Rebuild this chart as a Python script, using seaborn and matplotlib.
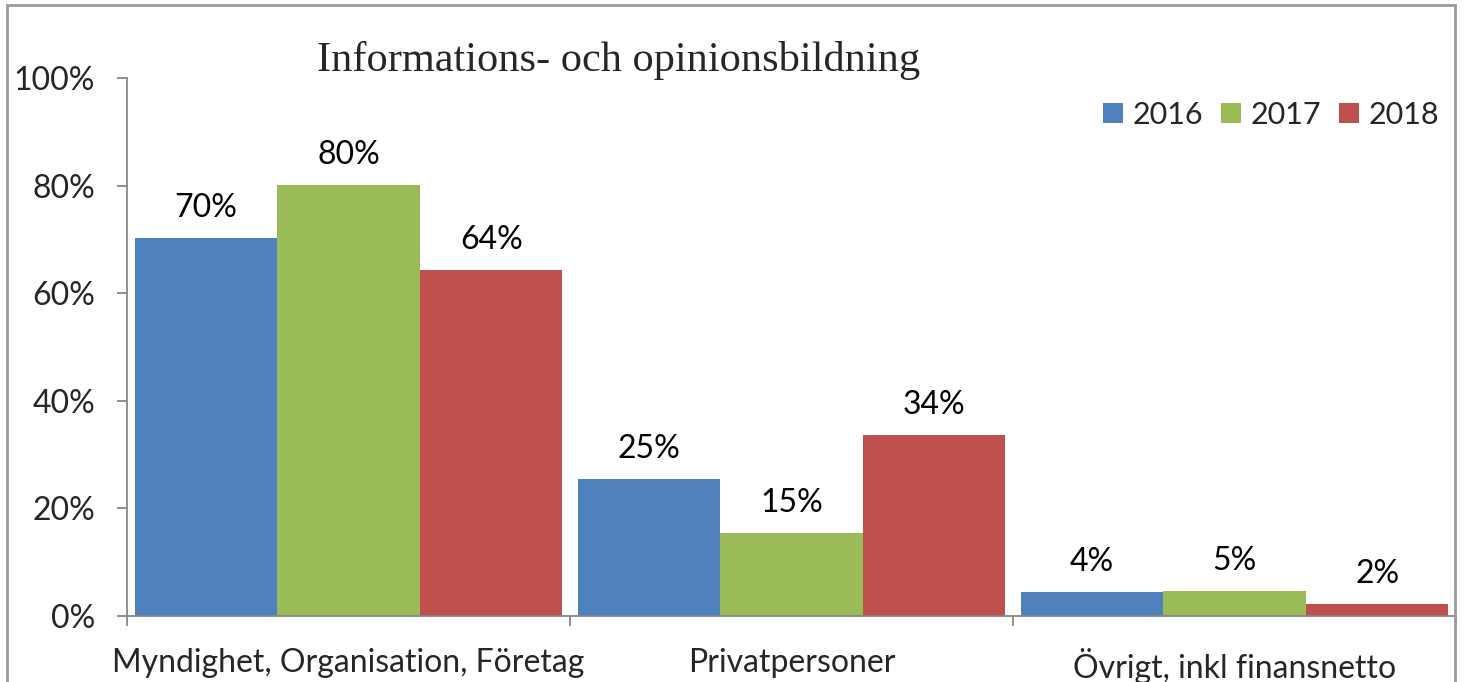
import matplotlib
matplotlib.use("Agg")
import matplotlib.pyplot as plt
import seaborn as sns
import pandas as pd
from matplotlib.patches import Patch, Rectangle
from matplotlib.ticker import FixedLocator, FuncFormatter

categories = ["Myndighet, Organisation, Företag", "Privatpersoner", "Övrigt, inkl finansnetto"]
years = ["2016", "2017", "2018"]
values_2016 = [70.3, 25.4, 4.4]
values_2017 = [80.1, 15.4, 4.6]
values_2018 = [64.3, 33.6, 2.2]
labels_2016 = ["70%", "25%", "4%"]
labels_2017 = ["80%", "15%", "5%"]
labels_2018 = ["64%", "34%", "2%"]
title = "Informations- och opinionsbildning"
yticks = [0, 20, 40, 60, 80, 100]
colors = ["#4F81BD", "#9BBB59", "#C0504D"]

rows = []
for y, vals in zip(years, [values_2016, values_2017, values_2018]):
    for c, v in zip(categories, vals):
        rows.append({"cat": c, "year": y, "val": v})
df = pd.DataFrame(rows)

sns.set_style("white")
plt.rcParams["font.family"] = ["Lato", "DejaVu Sans"]
FS = 23

fig = plt.figure(figsize=(14.65, 6.82), dpi=100)
ax = fig.add_axes([127/1465, 1-616/682, (1456-127)/1465, (616-78)/682])

sns.barplot(data=df, x="cat", y="val", hue="year", order=categories, hue_order=years,
            palette=colors, saturation=1, width=0.966, linewidth=0, ax=ax, legend=False)

ax.set_xlim(-0.5, 2.5)
ax.set_ylim(0, 100)
ax.set_xlabel("")
ax.set_ylabel("")

for cont, labs in zip(ax.containers, [labels_2016, labels_2017, labels_2018]):
    ax.bar_label(cont, labels=labs, padding=11, fontsize=FS, color="black")

gray = "#878787"
for s in ["top", "right"]:
    ax.spines[s].set_visible(False)
for s in ["left", "bottom"]:
    ax.spines[s].set_color(gray)
    ax.spines[s].set_linewidth(1.3)

ax.yaxis.set_major_locator(FixedLocator(yticks))
ax.yaxis.set_major_formatter(FuncFormatter(lambda v, p: f"{int(v)}%"))
ax.tick_params(axis="y", direction="out", length=7, width=1.3, color=gray, pad=16, labelsize=FS, left=True)
ax.tick_params(axis="x", which="major", length=0, pad=23, labelsize=FS, bottom=True)
ax.xaxis.set_minor_locator(FixedLocator([-0.5, 0.5, 1.5, 2.5]))
ax.tick_params(axis="x", which="minor", direction="out", length=7, width=1.3, color=gray, bottom=True)

handles = [Patch(facecolor=c, edgecolor="none", label=y) for c, y in zip(colors, years)]
ax.legend(handles=handles, loc="upper right", bbox_to_anchor=(1439/1465, 1-101/682),
          bbox_transform=fig.transFigure, ncol=3, frameon=False, fontsize=22,
          handlelength=0.65, handleheight=0.65, handletextpad=0.3, columnspacing=0.6,
          borderpad=0, borderaxespad=0)

fig.text(619/1465, 1-60/682, title, ha="center", va="center", fontsize=30.5,
         family="Liberation Serif")

fig.patches.append(Rectangle((7/1465, -0.05), (1455-7)/1465, 1.05-5/682, transform=fig.transFigure,
                             fill=False, edgecolor="#9a9a9a", linewidth=2))

fig.savefig("out.png", dpi=100)
